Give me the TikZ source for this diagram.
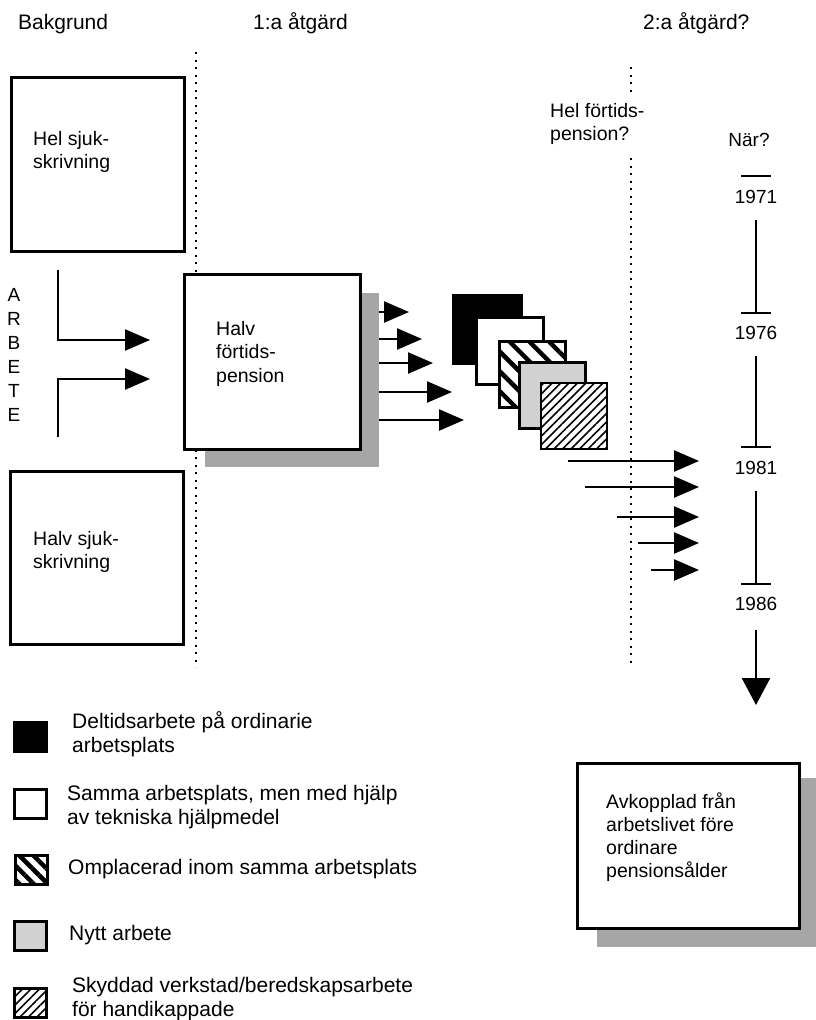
\documentclass[tikz,border=0pt]{standalone}
\usepackage{fontspec}
\setmainfont{Liberation Sans}
\usetikzlibrary{arrows.meta,patterns.meta,positioning}

\tikzset{
  ruta/.style={draw,line width=2.6pt,fill=white,inner sep=0pt,anchor=north west},
  skugga/.style={fill=black!35,inner sep=0pt,anchor=north west},
  brodtext/.style={align=left,anchor=north west,inner sep=0pt,font=\fontsize{19.5}{23.5}\selectfont},
  forklaring/.style={align=left,anchor=north west,inner sep=0pt,font=\fontsize{21}{24}\selectfont},
  rubrik/.style={anchor=base west,inner sep=0pt,font=\fontsize{21}{24}\selectfont},
  tal/.style={inner sep=0pt,font=\fontsize{19}{22}\selectfont},
  pil/.style={line width=2.4pt,-{Triangle[length=25pt,width=21pt]}},
  prick/.style={line width=2.2pt,dash pattern=on 2.2pt off 5.3pt},
  tid/.style={line width=2.4pt},
  grov/.style={preaction={fill=white},pattern={Lines[angle=-45,distance=#1,line width=4.5pt]}},
  grov/.default=14pt,
  fin/.style={preaction={fill=white},pattern={Lines[angle=45,distance=6pt,line width=1.6pt]}},
  liten/.style={minimum width=32pt,minimum height=29pt},
}

\begin{document}
\begin{tikzpicture}[x=1pt,y=-1pt]
  \useasboundingbox (0,0) rectangle (816,1020);

  % rubriker
  \node[rubrik] (bakgrund) at (18,29) {Bakgrund};
  \node[rubrik] (atgard1) at (253,29) {1:a åtgärd};
  \node[rubrik] (atgard2) at (643,29) {2:a åtgärd?};

  % prickade gränser
  \draw[prick] (196,52) -- (196,667);
  \draw[prick] (631,67) -- (631,95);
  \draw[prick] (631,158) -- (631,667);

  % bakgrund
  \node[ruta,minimum width=173pt,minimum height=174pt] (helsjuk) at (10,76) {};
  \node[brodtext] (helsjukTxt) at (33,131) {Hel sjuk-\\skrivning};
  \node[ruta,minimum width=173pt,minimum height=173pt] (halvsjuk) at (9,470) {};
  \node[brodtext] (halvsjukTxt) at (33,531) {Halv sjuk-\\skrivning};
  \node[anchor=north,align=center,inner sep=0pt,font=\fontsize{19}{24}\selectfont] (arbete) at (14,288) {A\\R\\B\\E\\T\\E};
  \coordinate (a1) at (58,270);
  \coordinate (a2) at (58,437);
  \coordinate (in1) at (150,340);
  \coordinate (in2) at (150,379);
  \draw[pil] (a1) |- (in1);
  \draw[pil] (a2) |- (in2);

  % 1:a åtgärd
  \node[skugga,minimum width=174pt,minimum height=174pt] (halvSk) at (205,293) {};
  \node[ruta,minimum width=176pt,minimum height=175pt] (halv) at (183,273) {};
  \node[brodtext] (halvTxt) at (216,321) {Halv\\förtids-\\pension};
  \foreach \y/\t [count=\i] in {312/409,339/422,363/433,392/452,420/464}{
    \coordinate (ut\i) at (\t,\y);
    \draw[pil] (halvSk.east |- ut\i) -- (ut\i);
  }
  \node[ruta,fill=black,minimum size=68pt] (k1) at (452,294) {};
  \node[ruta,minimum size=67pt] (k2) at (475,316) {};
  \node[ruta,grov,minimum size=66pt] (k3) at (497,339) {};
  \node[ruta,fill=black!18,minimum size=66pt] (k4) at (518,361) {};
  \node[ruta,fin,minimum size=66pt] (k5) at (540,382) {};

  % 2:a åtgärd
  \node[brodtext] (helfort) at (550,103) {Hel förtids-\\pension?};
  \node[tal] (nar) at (749,140) {När?};
  \coordinate (t1971) at (756,176);
  \node[tal] (y1971) at (756,197) {1971};
  \coordinate (t1976) at (756,313);
  \node[tal] (y1976) at (756,333) {1976};
  \coordinate (t1981) at (756,447);
  \node[tal] (y1981) at (756,468) {1981};
  \coordinate (t1986) at (756,584);
  \node[tal] (y1986) at (756,604) {1986};
  \foreach \t in {t1971,t1976,t1981,t1986}
    \draw[tid] ([xshift=-15pt]\t) -- ([xshift=15pt]\t);
  \draw[tid] ([yshift=-16pt]y1971.south) -- (t1976);
  \draw[tid] ([yshift=-16pt]y1976.south) -- (t1981);
  \draw[tid] ([yshift=-16pt]y1981.south) -- (t1986);
  \coordinate (ned) at (756,705);
  \draw[tid,-{Triangle[length=27pt,width=28pt]}] ([yshift=-19pt]y1986.south) -- (ned);
  \foreach \y/\s [count=\i] in {461/568,487/585,517/617,543/638,570/651}{
    \coordinate (fr\i) at (\s,\y);
    \coordinate (till\i) at (699,\y);
    \draw[pil] (fr\i) -- (till\i);
  }

  \node[skugga,minimum width=219pt,minimum height=169pt] (avkSk) at (597,778) {};
  \node[ruta,minimum width=222pt,minimum height=165pt] (avk) at (576,762) {};
  \node[brodtext,font=\fontsize{19.5}{22.7}\selectfont] (avkTxt) at (606,793) {Avkopplad från\\arbetslivet före\\ordinare\\pensionsålder};

  % förklaring
  \node[ruta,liten,fill=black] (f1) at (13,721) {};
  \node[ruta,liten] (f2) at (13,788) {};
  \node[ruta,liten,grov=10pt] (f3) at (13,853) {};
  \node[ruta,liten,fill=black!18] (f4) at (13,920) {};
  \node[ruta,liten,fin] (f5) at (13,987) {};
  \node[forklaring] (f1Txt) at (72,711) {Deltidsarbete på ordinarie\\arbetsplats};
  \node[forklaring] (f2Txt) at (67,785) {Samma arbetsplats, men med hjälp\\av tekniska hjälpmedel};
  \node[forklaring] (f3Txt) at (68,859) {Omplacerad inom samma arbetsplats};
  \node[forklaring] (f4Txt) at (69,925) {Nytt arbete};
  \node[forklaring] (f5Txt) at (72,977) {Skyddad verkstad/beredskapsarbete\\för handikappade};
\end{tikzpicture}
\end{document}
